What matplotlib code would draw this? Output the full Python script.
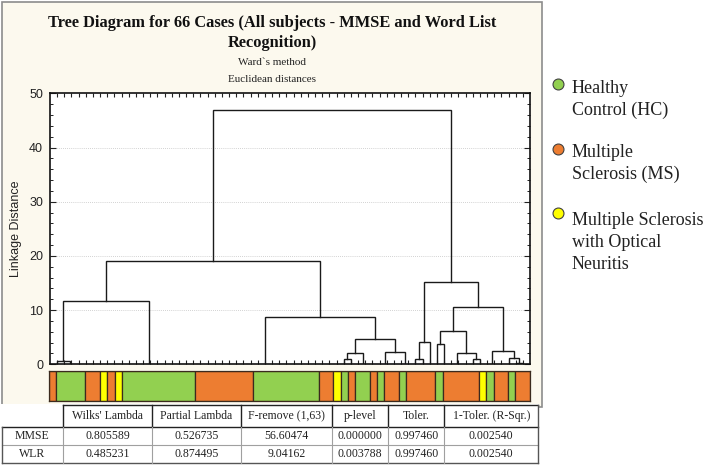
import matplotlib.pyplot as plt
from matplotlib.patches import Rectangle

# Tree: (merge height, left, right).
# A bare int n is a run of n identical cases joined at distance 0.
hc_left = (11.6, (0.7, 1, 3), (0.0, 16, 3))
mixed_mid = (8.8, (0.0, 10, 7),
             (4.7, (2.1, (0.9, 1, 1), 3), (2.3, 3, 2)))
ms_right = (15.2, (4.2, (0.9, 1, 1), 1),
            (10.5, (6.1, (3.8, 1, 1), (2.1, 3, (0.9, 1, 1))),
             (2.5, 3, (1.1, 1, (0.3, 1, 1)))))
tree = (46.9, (19.1, hc_left, mixed_mid), ms_right)
n_cases = 66

# group strip under the tree, as runs of cases
strip_groups = ['MS', 'HC', 'MS', 'ON', 'MS', 'ON', 'HC', 'MS', 'HC', 'MS', 'ON', 'HC', 'MS',
                'HC', 'MS', 'HC', 'MS', 'HC', 'MS', 'HC', 'MS', 'ON', 'HC', 'MS', 'HC', 'MS']
strip_counts = [1, 4, 2, 1, 1, 1, 10, 8, 9, 2, 1, 1, 1, 2, 1, 1, 2, 1, 4, 1, 5, 1, 1, 2, 1, 2]
group_colors = {'HC': '#92D050', 'MS': '#ED7D31', 'ON': '#FFFF00'}
legend_keys = ['HC', 'MS', 'ON']
legend_lines = [['Healthy', 'Control (HC)'],
                ['Multiple', 'Sclerosis (MS)'],
                ['Multiple Sclerosis', 'with Optical', 'Neuritis']]

table_header = ['', "Wilks' Lambda", 'Partial Lambda', 'F-remove (1,63)', 'p-level',
                'Toler.', '1-Toler. (R-Sqr.)']
table_rows = ['MMSE', 'WLR']
table_values = [['0.805589', '0.526735', '56.60474', '0.000000', '0.997460', '0.002540'],
                ['0.485231', '0.874495', '9.04162', '0.003788', '0.997460', '0.002540']]


def layout(node, start, segs):
    # returns x position, height and next free leaf; midpoint rule for the legs
    if isinstance(node, int):
        pos = start + node - 1
        for k in range(start + node - 2, start - 1, -1):
            pos = (k + pos) / 2
        return pos, 0.0, start + node
    h, left, right = node
    pl, hl, nxt = layout(left, start, segs)
    pr, hr, nxt = layout(right, nxt, segs)
    if h > 0:
        segs.append(([pl, pl, pr, pr], [hl, h, h, hr]))
    return (pl + pr) / 2, h, nxt


W, H = 709, 466
fig = plt.figure(figsize=(W / 100, H / 100), dpi=100)
serif = 'Liberation Serif'
sans = 'Liberation Sans'

# pixel-space background layer
bg = fig.add_axes([0, 0, 1, 1], zorder=0)
bg.set_xlim(0, W)
bg.set_ylim(H, 0)
bg.axis('off')
bg.add_patch(Rectangle((1.5, 1.5), 540, 405, facecolor='#FCF9EE', edgecolor='#8c8c8c', lw=1.2))

bg.text(272, 26.7, 'Tree Diagram for 66 Cases (All subjects - MMSE and Word List',
        ha='center', va='baseline', fontsize=11.8, weight='bold', family=serif, color='#111')
bg.text(272, 46.7, 'Recognition)', ha='center', va='baseline', fontsize=11.8,
        weight='bold', family=serif, color='#111')
bg.text(272, 65, 'Ward`s method', ha='center', va='baseline', fontsize=8, family=serif, color='#222')
bg.text(272, 82.3, 'Euclidean distances', ha='center', va='baseline', fontsize=8,
        family=serif, color='#222')
bg.text(16, 229, 'Linkage Distance', rotation=90, ha='center', va='center',
        fontsize=9, family=sans, color='#222')

# main tree
ax = fig.add_axes([50 / W, 1 - 364.3 / H, 480 / W, 271 / H], zorder=1)
segs = []
layout(tree, 1, segs)
for xs, ys in segs:
    ax.plot(xs, ys, color='#1a1a1a', lw=1.0, solid_joinstyle='miter')
ax.set_xlim(0, n_cases + 1)
ax.set_ylim(0, 50)
ax.set_xticks(range(1, n_cases + 1))
ax.set_xticklabels([])
ax.set_yticks(range(0, 51, 10))
ax.set_yticks(range(0, 51, 2), minor=True)
ax.tick_params(axis='x', direction='in', top=True, length=3, width=0.8, color='#222')
ax.tick_params(axis='y', which='major', direction='in', right=True, length=4, width=0.8,
               pad=5, labelsize=9, labelcolor='#222', color='#222')
ax.tick_params(axis='y', which='minor', direction='in', right=True, length=2.5, width=0.7,
               color='#222')
for lab in ax.get_yticklabels():
    lab.set_family(sans)
for g in range(10, 50, 10):
    ax.axhline(g, color='#c4c4c4', lw=0.6, ls=(0, (1, 1.5)), zorder=0)
for sp in ax.spines.values():
    sp.set_linewidth(1.2)
    sp.set_color('#111')

# group strip
strip = fig.add_axes([49 / W, 1 - 400.7 / H, 481 / W, 30 / H], zorder=1)
left = 0
for grp, cnt in zip(strip_groups, strip_counts):
    strip.bar(left, 1, width=cnt, align='edge', color=group_colors[grp],
              edgecolor='#3b2a1e', linewidth=0.9)
    left += cnt
strip.set_xlim(0, sum(strip_counts))
strip.set_ylim(0, 1)
strip.set_xticks([])
strip.set_yticks([])
for sp in strip.spines.values():
    sp.set_color('#3b2a1e')
    sp.set_linewidth(0.9)

# legend at the right
dot_y = [84, 149, 212.5]
text_base = [93, 157, 225]
for key, lines, dy, ty in zip(legend_keys, legend_lines, dot_y, text_base):
    bg.scatter([558], [dy], s=62, color=group_colors[key], edgecolor='#404040', lw=0.8)
    for k, line in enumerate(lines):
        bg.text(572, ty + k * 22, line, ha='left', va='baseline', fontsize=13,
                family=serif, color='#222')

# statistics table
col_x = [1.5, 63.3, 151.7, 240.7, 332.3, 388.3, 444.3, 538.3]
row_y = [405, 427, 445, 463]
bg.add_patch(Rectangle((0, 404), 539, 60, facecolor='white', edgecolor='none'))
dark, light = '#222222', '#a0a0a0'
bg.plot([col_x[1], col_x[-1]], [row_y[0]] * 2, color=dark, lw=1.0)
bg.plot([col_x[0], col_x[-1]], [row_y[1]] * 2, color=dark, lw=1.0)
bg.plot([col_x[0], col_x[-1]], [row_y[2]] * 2, color=light, lw=0.8)
bg.plot([col_x[0], col_x[-1]], [row_y[3]] * 2, color='#555', lw=1.0)
for cx in col_x[1:-1]:
    bg.plot([cx, cx], [row_y[0], row_y[1]], color=dark, lw=1.0)
    bg.plot([cx, cx], [row_y[1], row_y[3]], color=light, lw=0.8)
bg.plot([col_x[-1]] * 2, [row_y[0], row_y[3]], color='#555', lw=1.0)
bg.plot([col_x[0]] * 2, [row_y[1], row_y[3]], color='#555', lw=1.0)

centers = [(col_x[i] + col_x[i + 1]) / 2 for i in range(len(col_x) - 1)]
for cx, txt in zip(centers, table_header):
    bg.text(cx, 416, txt, ha='center', va='center', fontsize=8.5, family=serif, color='#222')
for r, (name, vals) in enumerate(zip(table_rows, table_values)):
    cy = (row_y[r + 1] + row_y[r + 2]) / 2
    for cx, txt in zip(centers, [name] + vals):
        bg.text(cx, cy, txt, ha='center', va='center', fontsize=8.5, family=serif, color='#222')

fig.savefig('out.png', dpi=100)
